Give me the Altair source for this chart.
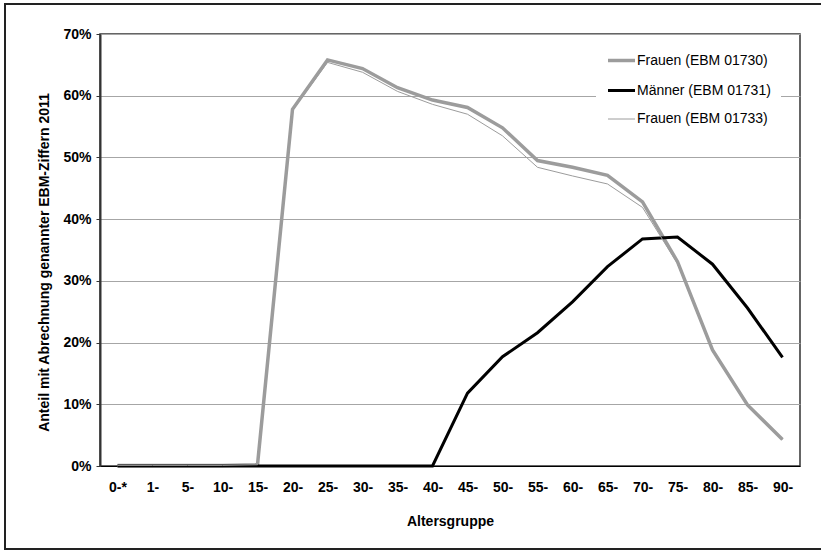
import altair as alt
import pandas as pd

# Age groups on the x axis
age_groups = ["0-*", "1-", "5-", "10-", "15-", "20-", "25-", "30-", "35-", "40-",
              "45-", "50-", "55-", "60-", "65-", "70-", "75-", "80-", "85-", "90-"]

# Share (%) with billed EBM codes, 2011
frauen_01730 = [0.1, 0.1, 0.1, 0.1, 0.2, 57.8, 65.8, 64.4, 61.3, 59.3,
                58.1, 54.8, 49.5, 48.4, 47.1, 42.8, 33.1, 18.8, 9.9, 4.3]
maenner_01731 = [0.0, 0.0, 0.0, 0.0, 0.0, 0.0, 0.0, 0.0, 0.0, 0.0,
                 11.8, 17.7, 21.6, 26.6, 32.3, 36.8, 37.1, 32.7, 25.6, 17.6]
frauen_01733 = [0.1, 0.1, 0.1, 0.1, 0.2, 57.6, 65.4, 63.8, 60.7, 58.6,
                57.0, 53.5, 48.4, 47.0, 45.7, 41.9, 32.8, 18.6, 9.8, 4.3]

series_names = ["Frauen (EBM 01730)", "Männer (EBM 01731)", "Frauen (EBM 01733)"]
series_values = [frauen_01730, maenner_01731, frauen_01733]
series_colors = ["#9c9c9c", "#000000", "#9c9c9c"]
series_widths = [3.5, 3, 1]

rows = []
for name, vals in zip(series_names, series_values):
    for g, v in zip(age_groups, vals):
        rows.append({"Altersgruppe": g, "Serie": name, "Anteil": v / 100})
df = pd.DataFrame(rows)

FONT = "Liberation Sans"

x_enc = alt.X(
    "Altersgruppe:N",
    sort=age_groups,
    scale=alt.Scale(type="point", padding=0.5),
    axis=alt.Axis(
        title="Altersgruppe",
        labelAngle=0,
        ticks=False,
        grid=False,
        labelPadding=14,
        labelFont=FONT,
        labelFontSize=14,
        labelFontWeight="bold",
        labelColor="#000000",
        domainColor="#000000",
        domainWidth=1,
        titleFont=FONT,
        titleFontSize=14,
        titleFontWeight="bold",
        titleColor="#000000",
        titleBaseline="middle",
        titleY=55,
    ),
)

y_enc = alt.Y(
    "Anteil:Q",
    scale=alt.Scale(domain=[0, 0.7], nice=False, zero=True),
    axis=alt.Axis(
        title="Anteil mit Abrechnung genannter EBM-Ziffern 2011",
        format=".0%",
        values=[0, 0.1, 0.2, 0.3, 0.4, 0.5, 0.6, 0.7],
        tickSize=4,
        tickColor="#333333",
        labelPadding=5,
        labelFont=FONT,
        labelFontSize=14,
        labelFontWeight="bold",
        labelColor="#000000",
        domainColor="#333333",
        domainWidth=2,
        gridColor="#a6a6a6",
        gridWidth=1,
        titleFont=FONT,
        titleFontSize=14,
        titleFontWeight="bold",
        titleColor="#000000",
        titleBaseline="middle",
        titleX=-56,
        titleY=228,
    ),
)

color_enc = alt.Color(
    "Serie:N",
    scale=alt.Scale(domain=series_names, range=series_colors),
    legend=alt.Legend(
        title=None,
        orient="none",
        legendX=496,
        legendY=1,
        fillColor="#ffffff",
        padding=10,
        symbolType="stroke",
        symbolSize=729,
        rowPadding=7.5,
        labelOffset=0,
        labelFont=FONT,
        labelFontSize=14,
        labelColor="#000000",
    ),
)

width_enc = alt.StrokeWidth(
    "Serie:N",
    scale=alt.Scale(type="ordinal", domain=series_names, range=series_widths),
    legend=alt.Legend(title=None),
)

base = alt.Chart(df).encode(x=x_enc, y=y_enc, color=color_enc, strokeWidth=width_enc)

layers = [
    base.transform_filter(alt.datum.Serie == name).mark_line(strokeJoin="miter")
    for name in series_names
]

# Outer frame around the whole figure
frame = alt.Chart(pd.DataFrame({"f": [0]})).mark_rect(
    fill=None, stroke="#222222", strokeWidth=2
).encode(
    x=alt.value(-95), x2=alt.value(740), y=alt.value(-30), y2=alt.value(515)
)

chart = alt.layer(frame, *layers).properties(
    width=700,
    height=432,
    autosize=alt.AutoSizeParams(type="none"),
    padding={"left": 100, "top": 34, "right": 21, "bottom": 85},
    background="#ffffff",
).configure_view(
    stroke="#333333", strokeWidth=1.5
)

chart.save("out.html", embed_options={"renderer": "svg", "actions": False})
